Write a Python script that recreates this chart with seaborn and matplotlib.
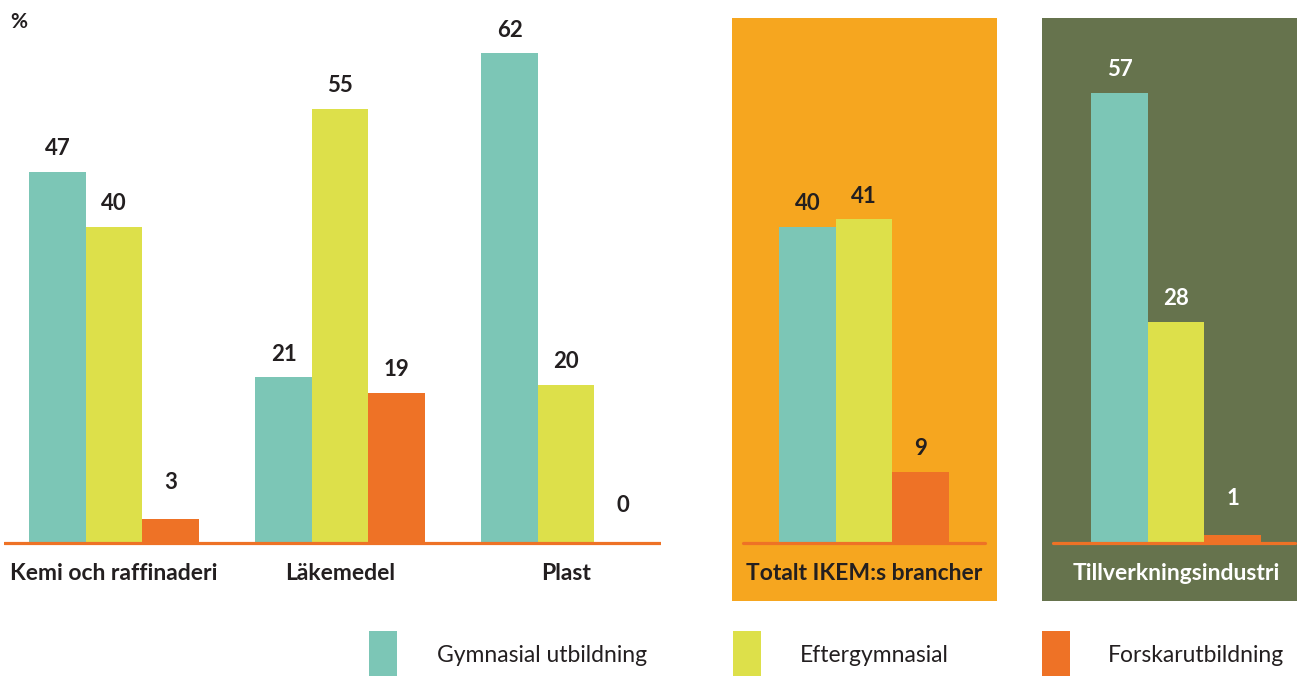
import pandas as pd
import seaborn as sns
import matplotlib.pyplot as plt
from matplotlib.patches import Rectangle

# Data
levels = ['Gymnasial utbildning', 'Eftergymnasial', 'Forskarutbildning']
branches = ['Kemi och raffinaderi', 'Läkemedel', 'Plast']
gymnasial = [47, 21, 62]
eftergymnasial = [40, 55, 20]
forskar = [3, 19, 0]

total_label = 'Totalt IKEM:s brancher'
total_values = [40, 41, 9]

industry_label = 'Tillverkningsindustri'
industry_values = [57, 28, 1]

colors = ['#7cc6b6', '#dde04a', '#ee7226']
panel_orange = '#f6a61f'
panel_olive = '#66734d'
text_dark = '#231f20'

W, H = 1298, 676
PX_PER_UNIT = 7.9
BASE_Y = 543
TOP_Y, BOT_Y = 18, 601
GROUP_PX = 226

sns.set_style('white')
plt.rcParams['font.family'] = ['Lato', 'DejaVu Sans']


def long_df(groups, series):
    rows = []
    for lvl, vals in zip(levels, series):
        for g, v in zip(groups, vals):
            rows.append({'group': g, 'level': lvl, 'value': v})
    return pd.DataFrame(rows)


def make_axes(fig, left_px, right_px, center0_px, facecolor):
    ax = fig.add_axes([left_px / W, (H - BOT_Y) / H,
                       (right_px - left_px) / W, (BOT_Y - TOP_Y) / H])
    ax.set_facecolor(facecolor)
    xlim = ((left_px - center0_px) / GROUP_PX, (right_px - center0_px) / GROUP_PX)
    return ax, xlim


def draw_panel(ax, xlim, df, groups, line_span, label_color):
    sns.barplot(data=df, x='group', y='value', hue='level', order=groups,
                hue_order=levels, palette=colors, width=0.75, saturation=1,
                linewidth=0, legend=False, ax=ax)
    ax.set_xlim(*xlim)
    ax.set_ylim(-(BOT_Y - BASE_Y) / PX_PER_UNIT, (BASE_Y - TOP_Y) / PX_PER_UNIT)
    ax.axhline(0, xmin=line_span[0], xmax=line_span[1], color='#ee7226', lw=2.3)
    # value labels above bars
    for cont in ax.containers:
        for bar in cont:
            v = bar.get_height()
            off = 37 if v < 5 else 23
            ax.annotate(f'{v:.0f}', xy=(bar.get_x() + bar.get_width() / 2, v),
                        xytext=(0, off), textcoords='offset pixels',
                        ha='center', va='center', fontsize=16,
                        fontweight='bold', color=label_color)
    # category labels under the baseline
    for i, g in enumerate(groups):
        ax.text(i, -(574 - BASE_Y) / PX_PER_UNIT, g, ha='center', va='center',
                fontsize=16.5, fontweight='bold', color=label_color)
    ax.set_xticks([])
    ax.set_yticks([])
    ax.set_xlabel('')
    ax.set_ylabel('')
    for s in ax.spines.values():
        s.set_visible(False)


fig = plt.figure(figsize=(W / 100, H / 100), dpi=100)

ax1, xl1 = make_axes(fig, 4, 661, 114, 'none')
draw_panel(ax1, xl1, long_df(branches, [gymnasial, eftergymnasial, forskar]),
           branches, (0, 1), text_dark)

ax2, xl2 = make_axes(fig, 732, 997, 864, panel_orange)
draw_panel(ax2, xl2, long_df([total_label], [[v] for v in total_values]),
           [total_label], (11 / 265, 253 / 265), text_dark)

ax3, xl3 = make_axes(fig, 1042, 1297, 1176, panel_olive)
draw_panel(ax3, xl3, long_df([industry_label], [[v] for v in industry_values]),
           [industry_label], (11 / 255, 253 / 255), 'white')

fig.text(10 / W, 1 - 22 / H, '%', fontsize=15, fontweight='bold',
         color=text_dark, va='center')

# Legend
for lvl, col, sx, tx in zip(levels, colors, [369, 733, 1042], [437, 800, 1108]):
    fig.add_artist(Rectangle((sx / W, 0), 28 / W, (676 - 631) / H,
                             transform=fig.transFigure, color=col, lw=0))
    fig.text(tx / W, 1 - 656 / H, lvl, fontsize=16.5, color=text_dark, va='center')

plt.savefig('out.png', dpi=100)
